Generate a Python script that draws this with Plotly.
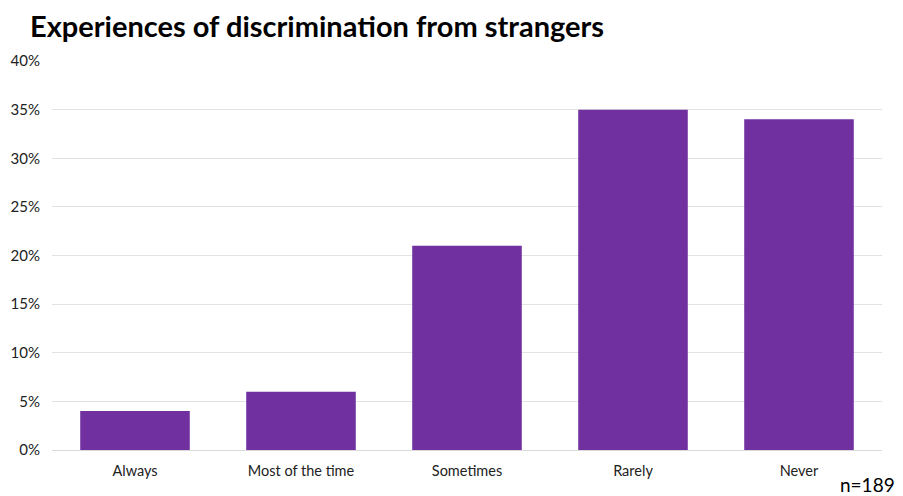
import plotly.graph_objects as go

categories = ["Always", "Most of the time", "Sometimes", "Rarely", "Never"]
values = [4, 6, 21, 35, 34]
tick_vals = [0, 5, 10, 15, 20, 25, 30, 35, 40]
tick_text = [f"{v}%" for v in tick_vals]

# page has an 8px body offset; figure sized so it fits the 903x496 window
W, H = 895, 488
L, T = 44, 53
R, B = 21, 46

fig = go.Figure(go.Bar(x=categories, y=values, marker=dict(color="#7030A0", line=dict(width=0))))

fig.update_layout(
    width=W, height=H,
    margin=dict(l=L, r=R, t=T, b=B, autoexpand=False),
    paper_bgcolor="white", plot_bgcolor="white",
    bargap=0.34,
    showlegend=False,
    font=dict(family="Lato, sans-serif", color="#222222", size=14),
    title=dict(text="<b>Experiences of discrimination from strangers</b>",
               x=22/W, xanchor="left", y=1-19/H, yanchor="middle",
               font=dict(family="Lato, sans-serif", size=29, color="black")),
    annotations=[dict(text="n=189", x=1, xref="paper", xanchor="right", xshift=R - 6,
                      y=-(476 - (H - B)) / (H - T - B), yref="paper", yanchor="middle",
                      showarrow=False, font=dict(size=19, color="black"))],
)
fig.update_xaxes(showgrid=False, showline=False, ticks="", ticklabelstandoff=10,
                 tickfont=dict(size=14.5, color="#222222"))
fig.update_yaxes(range=[0, 40], tickvals=tick_vals, ticktext=tick_text,
                 showgrid=True, gridcolor="#e3e3e3", gridwidth=1, zeroline=True,
                 zerolinecolor="#d9d9d9", zerolinewidth=1, ticks="", ticklabelstandoff=11,
                 tickfont=dict(size=15, color="#222222"))

fig.write_html("out.html")
